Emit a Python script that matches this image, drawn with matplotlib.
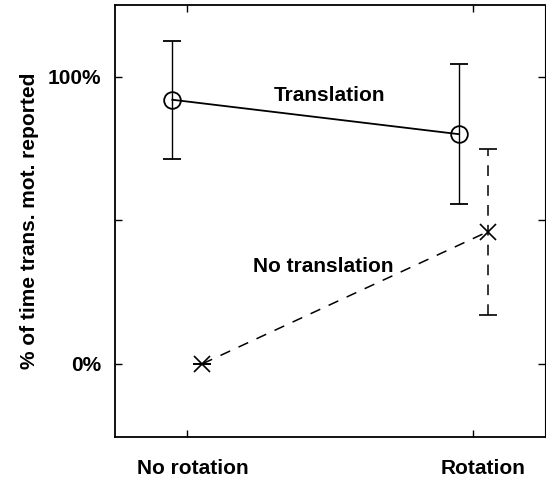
import numpy as np
import matplotlib
matplotlib.use('Agg')
import matplotlib.pyplot as plt
from matplotlib.transforms import ScaledTranslation

plt.rcParams['font.family'] = ['Liberation Sans', 'DejaVu Sans']
plt.rcParams['font.weight'] = 'bold'

# conditions on the x axis
conditions = ["No rotation", "Rotation"]
cond_x = [0, 1]

# Translation present (circles, solid)
trans_x = [-0.05, 0.95]
trans_mean = [92, 80]
trans_err = [20.5, 24.5]

# No translation (crosses, dashed)
notrans_x = [0.055, 1.05]
notrans_mean = [0, 46]
notrans_err = [0, 29]

yticks = [0, 50, 100]
ytick_labels = ["0%", "", "100%"]

fig = plt.figure(figsize=(5.46, 4.78), dpi=100)
ax = fig.add_axes([0.2106, 0.0858, 0.7875, 0.9037])

ax.errorbar(trans_x, trans_mean, yerr=trans_err, color='black', lw=1.3,
            marker='o', ms=12, mfc='none', mec='black', mew=1.3,
            capsize=6.5, capthick=1.3, elinewidth=1.0)

eb = ax.errorbar(notrans_x, notrans_mean, yerr=notrans_err, color='black',
                 lw=1.1, ls=(0, (7, 6)), marker='x', ms=12, mew=1.2,
                 capsize=6.5, capthick=1.2, elinewidth=1.1)
for bar in eb[2]:
    bar.set_linestyle((0, (7, 6)))

ax.text(0.50, 93.5, "Translation", ha='center', va='center', fontsize=15,
        fontweight='bold')
ax.text(0.475, 34, "No translation", ha='center', va='center', fontsize=15,
        fontweight='bold')

ax.set_xlim(-0.25, 1.25)
ax.set_ylim(-25.5, 125)
ax.set_xticks(cond_x)
ax.set_xticklabels(conditions, fontsize=15, fontweight='bold')
ax.set_yticks(yticks)
ax.set_yticklabels(ytick_labels, fontsize=15, fontweight='bold')
ax.tick_params(direction='in', length=5, width=1, top=True, right=True, pad=10)
ax.tick_params(axis='x', pad=16)
# labels sit a little right of their ticks in the original
for lab, dx in zip(ax.get_xticklabels(), [0.06, 0.10]):
    lab.set_transform(lab.get_transform() + ScaledTranslation(dx, 0, fig.dpi_scale_trans))
ax.set_ylabel("% of time trans. mot. reported", fontsize=15, fontweight='bold',
              labelpad=6)
for side in ['left', 'bottom', 'top']:
    ax.spines[side].set_linewidth(1.3)
ax.spines['right'].set_linewidth(0.8)

fig.savefig("out.png", dpi=100)
